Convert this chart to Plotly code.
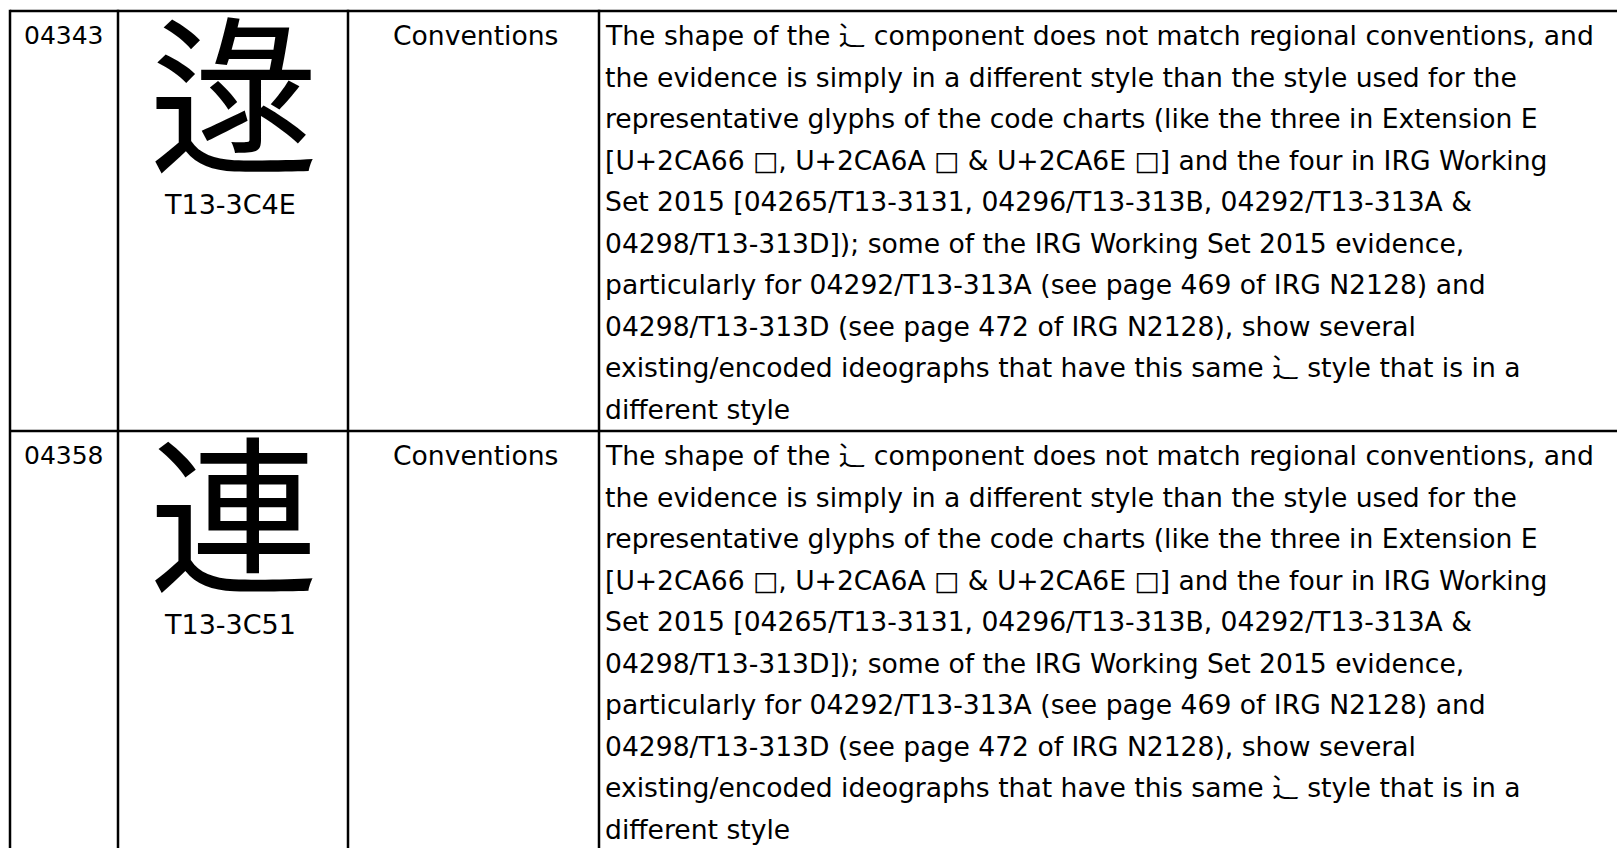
import plotly.graph_objects as go

# ---------------- data ----------------
codes = ["04343", "04358"]
glyphs = ["逯", "連"]
sources = ["T13-3C4E", "T13-3C51"]
categories = ["Conventions", "Conventions"]
description_lines = [
    "The shape of the ⻌ component does not match regional conventions, and",
    "the evidence is simply in a different style than the style used for the",
    "representative glyphs of the code charts (like the three in Extension E",
    "[U+2CA66 □, U+2CA6A □ & U+2CA6E □] and the four in IRG Working",
    "Set 2015 [04265/T13-3131, 04296/T13-313B, 04292/T13-313A &",
    "04298/T13-313D]); some of the IRG Working Set 2015 evidence,",
    "particularly for 04292/T13-313A (see page 469 of IRG N2128) and",
    "04298/T13-313D (see page 472 of IRG N2128), show several",
    "existing/encoded ideographs that have this same ⻌ style that is in a",
    "different style",
]
descriptions = [description_lines, description_lines]

# ---------------- layout constants ----------------
W, H = 1617, 848
COL_EDGES = [10, 118, 348, 599, 1660]
ROW_TOP = 11
ROW_H = 420
LINE_H = 41.5
FIRST_LINE = 24.5      # centre of first text line below row top
FONT = "DejaVu Sans, Noto Sans CJK JP"
CJK_FONT = "Noto Sans CJK JP"
CODE_SIZE = 25
TEXT_SIZE = 26.6
LABEL_SIZE = 27
GLYPH_SIZE = 170
LINE_W = 2.5

fig = go.Figure()

n_rows = len(codes)
row_edges = [ROW_TOP + i * ROW_H for i in range(n_rows + 1)]

# grid lines
for x in COL_EDGES:
    fig.add_shape(type="line", xref="x", yref="y", x0=x, x1=x,
                  y0=ROW_TOP - LINE_W / 2, y1=H + 20,
                  line=dict(color="black", width=LINE_W))
for y in row_edges:
    fig.add_shape(type="line", xref="x", yref="y", x0=COL_EDGES[0], x1=W + 20,
                  y0=y, y1=y, line=dict(color="black", width=LINE_W))

def txt(x, y, s, size, xanchor="left", family=FONT):
    fig.add_annotation(x=x, y=y, xref="x", yref="y", text=s, showarrow=False,
                       xanchor=xanchor, yanchor="middle",
                       font=dict(family=family, size=size, color="black"),
                       borderpad=0)

for r in range(n_rows):
    top = row_edges[r]
    y0 = top + FIRST_LINE
    # code
    txt(COL_EDGES[0] + 13, y0, codes[r], CODE_SIZE)
    # glyph + source
    cx = (COL_EDGES[1] + COL_EDGES[2]) / 2
    txt(cx + 1, top + 76, glyphs[r], GLYPH_SIZE, xanchor="center", family=CJK_FONT)
    txt(cx - 3, top + 193, sources[r], LABEL_SIZE, xanchor="center")
    # category
    txt((COL_EDGES[2] + COL_EDGES[3]) / 2 + 2, y0, categories[r], TEXT_SIZE,
        xanchor="center")
    # description
    for i, line in enumerate(descriptions[r]):
        txt(COL_EDGES[3] + 5, y0 + i * LINE_H, line, TEXT_SIZE)

fig.update_layout(
    width=W, height=H,
    margin=dict(l=0, r=0, t=0, b=0),
    paper_bgcolor="white", plot_bgcolor="white",
    showlegend=False,
    xaxis=dict(range=[0, W], visible=False, fixedrange=True),
    yaxis=dict(range=[H, 0], visible=False, fixedrange=True),
)

fig.write_html("out.html", config={"displayModeBar": False},
               post_script="document.body.style.margin='0';"
                           "document.body.style.overflow='hidden';")
